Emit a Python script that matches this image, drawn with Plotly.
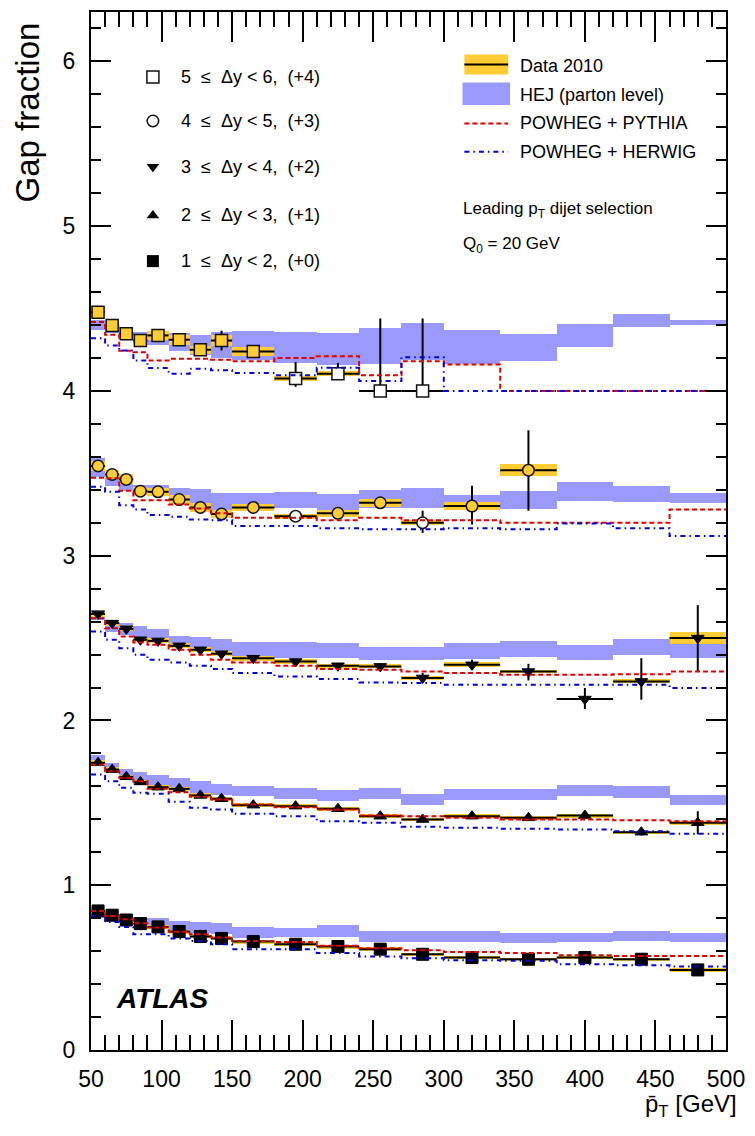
import plotly.graph_objects as go

# ---------------- data ----------------
pt_edges = [50, 60, 70, 80, 90, 105, 120, 135, 150, 180, 210, 240, 270, 300, 340, 380, 420, 460, 500]

# Data 2010 (gap fraction, without the display offset)
data_dy12 = [0.844, 0.818, 0.789, 0.767, 0.747, 0.719, 0.689, 0.677, 0.658, 0.642, 0.628, 0.612, 0.581, 0.561, 0.551, 0.561, 0.551, 0.486]
data_dy23 = [0.743, 0.702, 0.658, 0.627, 0.595, 0.585, 0.545, 0.525, 0.486, 0.480, 0.464, 0.419, 0.399, 0.419, 0.409, 0.423, 0.322, 0.379]
data_dy34 = [0.647, 0.591, 0.556, 0.490, 0.483, 0.453, 0.429, 0.405, 0.378, 0.358, 0.332, 0.328, 0.258, 0.338, 0.297, 0.130, 0.237, 0.500]
data_dy45 = [0.545, 0.493, 0.463, 0.392, 0.388, 0.341, 0.293, 0.253, 0.293, 0.240, 0.257, 0.321, 0.200, 0.301, 0.519]
data_dy56 = [0.478, 0.397, 0.347, 0.306, 0.337, 0.311, 0.250, 0.306, 0.240, 0.075, 0.105, 0.000, 0.000]

# statistical errors (up / down)
statup_dy12 = [0.008] * 12 + [0.010, 0.010, 0.012, 0.012, 0.015, 0.020]
statdn_dy12 = [0.008] * 12 + [0.010, 0.010, 0.012, 0.012, 0.015, 0.020]
statup_dy23 = [0.010] * 15 + [0.015, 0.020, 0.070]
statdn_dy23 = [0.010] * 15 + [0.015, 0.020, 0.070]
statup_dy34 = [0.010] * 9 + [0.015, 0.015, 0.020, 0.030, 0.030, 0.047, 0.067, 0.141, 0.200]
statdn_dy34 = [0.010] * 9 + [0.015, 0.015, 0.020, 0.030, 0.030, 0.054, 0.060, 0.111, 0.200]
statup_dy45 = [0.010] * 5 + [0.015, 0.015, 0.015, 0.015, 0.020, 0.025, 0.030, 0.073, 0.123, 0.242]
statdn_dy45 = [0.010] * 5 + [0.015, 0.015, 0.015, 0.015, 0.020, 0.025, 0.030, 0.061, 0.111, 0.246]
statup_dy56 = [0.010, 0.010, 0.010, 0.015, 0.020, 0.030, 0.020, 0.060, 0.020, 0.100, 0.065, 0.440, 0.440]
statdn_dy56 = [0.010, 0.010, 0.010, 0.015, 0.020, 0.030, 0.020, 0.060, 0.020, 0.050, 0.035, 0.000, 0.000]

# systematic uncertainty (half height of yellow band)
syst_dy12 = [0.012, 0.012, 0.012, 0.012, 0.012, 0.012, 0.012, 0.012, 0.012, 0.012, 0.012, 0.012, 0.010, 0.010, 0.010, 0.010, 0.010, 0.012]
syst_dy23 = [0.015, 0.014, 0.013, 0.013, 0.013, 0.013, 0.013, 0.013, 0.013, 0.012, 0.012, 0.012, 0.010, 0.012, 0.010, 0.012, 0.010, 0.012]
syst_dy34 = [0.020, 0.015, 0.015, 0.015, 0.015, 0.015, 0.015, 0.015, 0.015, 0.015, 0.012, 0.012, 0.010, 0.015, 0.010, 0.004, 0.012, 0.035]
syst_dy45 = [0.030, 0.030, 0.030, 0.025, 0.025, 0.025, 0.025, 0.025, 0.020, 0.015, 0.020, 0.025, 0.015, 0.025, 0.035]
syst_dy56 = [0.035, 0.030, 0.030, 0.030, 0.025, 0.030, 0.025, 0.035, 0.025, 0.015, 0.015, 0.000, 0.000]

# HEJ (parton level): band centre and half width
hej_dy12 = [0.838, 0.820, 0.800, 0.780, 0.773, 0.750, 0.745, 0.738, 0.712, 0.713, 0.720, 0.690, 0.688, 0.688, 0.680, 0.685, 0.692, 0.685]
hejerr_dy12 = [0.020, 0.025, 0.025, 0.027, 0.030, 0.033, 0.033, 0.035, 0.035, 0.030, 0.037, 0.034, 0.032, 0.032, 0.033, 0.028, 0.030, 0.028]
hej_dy23 = [0.762, 0.717, 0.682, 0.660, 0.637, 0.622, 0.596, 0.580, 0.570, 0.556, 0.543, 0.556, 0.523, 0.553, 0.550, 0.576, 0.566, 0.515]
hejerr_dy23 = [0.030, 0.025, 0.024, 0.028, 0.035, 0.030, 0.035, 0.035, 0.030, 0.035, 0.033, 0.035, 0.033, 0.033, 0.034, 0.035, 0.035, 0.031]
hej_dy34 = [0.640, 0.572, 0.555, 0.533, 0.513, 0.487, 0.469, 0.456, 0.427, 0.427, 0.424, 0.405, 0.405, 0.420, 0.435, 0.414, 0.447, 0.454]
hejerr_dy34 = [0.028, 0.038, 0.035, 0.043, 0.040, 0.028, 0.040, 0.037, 0.048, 0.048, 0.045, 0.040, 0.040, 0.048, 0.050, 0.045, 0.048, 0.076]
hej_dy45 = [0.535, 0.470, 0.424, 0.398, 0.395, 0.374, 0.350, 0.330, 0.337, 0.337, 0.320, 0.342, 0.352, 0.326, 0.336, 0.390, 0.375, 0.350]
hejerr_dy45 = [0.056, 0.045, 0.030, 0.030, 0.033, 0.040, 0.057, 0.052, 0.045, 0.050, 0.053, 0.055, 0.060, 0.045, 0.055, 0.056, 0.048, 0.033]
hej_dy56 = [0.400, 0.380, 0.355, 0.325, 0.317, 0.295, 0.280, 0.277, 0.274, 0.263, 0.253, 0.274, 0.298, 0.264, 0.264, 0.337, 0.430, 0.418]
hejerr_dy56 = [0.030, 0.030, 0.035, 0.035, 0.040, 0.055, 0.060, 0.080, 0.089, 0.094, 0.098, 0.109, 0.113, 0.103, 0.083, 0.071, 0.039, 0.015]

# POWHEG + PYTHIA
pythia_dy12 = [0.844, 0.814, 0.793, 0.769, 0.743, 0.717, 0.703, 0.683, 0.662, 0.656, 0.632, 0.618, 0.606, 0.595, 0.588, 0.575, 0.571, 0.571]
pythia_dy23 = [0.732, 0.692, 0.652, 0.631, 0.585, 0.565, 0.537, 0.520, 0.490, 0.474, 0.460, 0.423, 0.419, 0.409, 0.399, 0.399, 0.395, 0.389]
pythia_dy34 = [0.621, 0.560, 0.510, 0.473, 0.459, 0.429, 0.399, 0.368, 0.352, 0.332, 0.312, 0.308, 0.297, 0.288, 0.277, 0.277, 0.280, 0.297]
pythia_dy45 = [0.473, 0.470, 0.394, 0.337, 0.337, 0.311, 0.287, 0.257, 0.230, 0.230, 0.216, 0.230, 0.216, 0.216, 0.200, 0.200, 0.200, 0.281]
pythia_dy56 = [0.418, 0.341, 0.244, 0.235, 0.185, 0.195, 0.195, 0.190, 0.181, 0.200, 0.210, 0.095, 0.181, 0.161, 0.000, 0.000, 0.000, 0.000]

# POWHEG + HERWIG
herwig_dy12 = [0.810, 0.777, 0.747, 0.703, 0.703, 0.677, 0.662, 0.642, 0.612, 0.612, 0.588, 0.568, 0.557, 0.545, 0.541, 0.521, 0.515, 0.507]
herwig_dy23 = [0.672, 0.631, 0.591, 0.561, 0.555, 0.506, 0.470, 0.460, 0.434, 0.419, 0.389, 0.379, 0.355, 0.349, 0.343, 0.339, 0.328, 0.312]
herwig_dy34 = [0.540, 0.490, 0.439, 0.399, 0.368, 0.352, 0.332, 0.312, 0.288, 0.267, 0.251, 0.231, 0.227, 0.217, 0.217, 0.217, 0.217, 0.197]
herwig_dy45 = [0.418, 0.388, 0.307, 0.281, 0.247, 0.236, 0.220, 0.216, 0.180, 0.180, 0.166, 0.160, 0.160, 0.166, 0.160, 0.196, 0.166, 0.119]
herwig_dy56 = [0.320, 0.276, 0.246, 0.185, 0.139, 0.105, 0.135, 0.125, 0.109, 0.095, 0.141, 0.060, 0.205, 0.000, 0.000, 0.000, 0.000, 0.000]

range_labels = ["1 ≤ Δy < 2", "2 ≤ Δy < 3", "3 ≤ Δy < 4", "4 ≤ Δy < 5", "5 ≤ Δy < 6"]
offsets = [0, 1, 2, 3, 4]
offset_labels = ["(+0)", "(+1)", "(+2)", "(+3)", "(+4)"]

# ---------------- styles ----------------
FONT = "Liberation Sans, Arial, Helvetica, sans-serif"
YELLOW = "#ffcc33"
HEJ_COL = "#9999ff"
RED = "#e00000"
BLUE = "#0000e0"
symbols = ["square", "triangle-up", "triangle-down", "circle", "square"]
open_marker = [False, False, False, True, True]
msizes = [12, 11, 11, 11.5, 12]

series = [
    dict(d=data_dy12, su=statup_dy12, sd=statdn_dy12, sy=syst_dy12, h=hej_dy12, he=hejerr_dy12, p=pythia_dy12, w=herwig_dy12),
    dict(d=data_dy23, su=statup_dy23, sd=statdn_dy23, sy=syst_dy23, h=hej_dy23, he=hejerr_dy23, p=pythia_dy23, w=herwig_dy23),
    dict(d=data_dy34, su=statup_dy34, sd=statdn_dy34, sy=syst_dy34, h=hej_dy34, he=hejerr_dy34, p=pythia_dy34, w=herwig_dy34),
    dict(d=data_dy45, su=statup_dy45, sd=statdn_dy45, sy=syst_dy45, h=hej_dy45, he=hejerr_dy45, p=pythia_dy45, w=herwig_dy45),
    dict(d=data_dy56, su=statup_dy56, sd=statdn_dy56, sy=syst_dy56, h=hej_dy56, he=hejerr_dy56, p=pythia_dy56, w=herwig_dy56),
]

centers = [(a + b) / 2 for a, b in zip(pt_edges[:-1], pt_edges[1:])]
widths = [b - a for a, b in zip(pt_edges[:-1], pt_edges[1:])]

fig = go.Figure()

# HEJ bands
for s, off in zip(series, offsets):
    n = len(s["h"])
    fig.add_trace(go.Bar(
        x=centers[:n], width=widths[:n],
        base=[c - e + off for c, e in zip(s["h"], s["he"])],
        y=[2 * e for e in s["he"]],
        marker=dict(color=HEJ_COL, line=dict(width=0)),
        hoverinfo="skip"))

# Data systematic bands (yellow)
for s, off in zip(series, offsets):
    n = len(s["d"])
    fig.add_trace(go.Bar(
        x=centers[:n], width=widths[:n],
        base=[v - e + off for v, e in zip(s["d"], s["sy"])],
        y=[2 * e for e in s["sy"]],
        marker=dict(color=YELLOW, line=dict(width=0)),
        hoverinfo="skip"))

# Data points with stat errors and bin widths
for i, (s, off) in enumerate(zip(series, offsets)):
    n = len(s["d"])
    if open_marker[i]:
        fills = [YELLOW if e >= 0.02 else "white" for e in s["sy"]]
        mk = dict(symbol=symbols[i], size=msizes[i], color=fills,
                  line=dict(color="#111111", width=1.5))
    else:
        mk = dict(symbol=symbols[i], size=msizes[i], color="black",
                  line=dict(color="black", width=1))
    fig.add_trace(go.Scatter(
        x=centers[:n], y=[v + off for v in s["d"]], mode="markers",
        marker=mk,
        error_x=dict(type="data", array=[w / 2 for w in widths[:n]], color="black", thickness=2, width=0),
        error_y=dict(type="data", symmetric=False, array=s["su"], arrayminus=s["sd"],
                     color="black", thickness=2, width=0),
        cliponaxis=True))

# POWHEG + PYTHIA
for s, off in zip(series, offsets):
    vals = [v + off for v in s["p"]]
    fig.add_trace(go.Scatter(
        x=pt_edges, y=vals + [vals[-1]], mode="lines", line_shape="hv",
        line=dict(color=RED, width=2, dash="5px,3px")))

# POWHEG + HERWIG
for s, off in zip(series, offsets):
    vals = [v + off for v in s["w"]]
    fig.add_trace(go.Scatter(
        x=pt_edges, y=vals + [vals[-1]], mode="lines", line_shape="hv",
        line=dict(color=BLUE, width=2, dash="5px,4px,1.5px,4px")))

# ---------------- legends ----------------
# left legend (marker key) on an overlay axis in plot-area fractions
leg_rows = [0.760, 0.804, 0.851, 0.895, 0.9375]  # dy12 ... dy56
leg_sym_x = 0.0975
leg_txt_x = 0.1384
for i in range(5):
    if open_marker[i]:
        mk = dict(symbol=symbols[i] + "-open", size=msizes[i], color="#111111", line=dict(width=1.5))
    else:
        mk = dict(symbol=symbols[i], size=msizes[i], color="black")
    fig.add_trace(go.Scatter(x=[leg_sym_x], y=[leg_rows[i]], xaxis="x2", yaxis="y2",
                             mode="markers", marker=mk, cliponaxis=False))

annotations = []
for i in range(5):
    lo, rest = range_labels[i].split(" ≤ ")
    txt = lo + "\u00a0\u00a0≤\u00a0\u00a0" + rest + ",\u00a0\u00a0" + offset_labels[i]
    annotations.append(dict(x=leg_txt_x, y=leg_rows[i], xref="paper", yref="paper", text=txt,
                            showarrow=False, xanchor="left", yanchor="middle",
                            font=dict(family=FONT, size=18, color="black")))

# right legend
rl_x0, rl_x1 = 0.588, 0.657
rl_txt = 0.673
shapes = [
    dict(type="rect", xref="paper", yref="paper", x0=rl_x0, x1=rl_x1, y0=0.9397, y1=0.959,
         fillcolor=YELLOW, line=dict(width=0)),
    dict(type="line", xref="paper", yref="paper", x0=rl_x0, x1=rl_x1, y0=0.9495, y1=0.9495,
         line=dict(color="black", width=2)),
    dict(type="rect", xref="paper", yref="paper", x0=0.585, x1=0.660, y0=0.9103, y1=0.932,
         fillcolor=HEJ_COL, line=dict(width=0)),
    dict(type="line", xref="paper", yref="paper", x0=rl_x0, x1=rl_x1, y0=0.8926, y1=0.8926,
         line=dict(color=RED, width=2, dash="5px,3px")),
    dict(type="line", xref="paper", yref="paper", x0=rl_x0, x1=rl_x1, y0=0.8654, y1=0.8654,
         line=dict(color=BLUE, width=2, dash="5px,4px,1.5px,4px")),
]
for txt, yy in [("Data 2010", 0.948), ("HEJ (parton level)", 0.9205),
                ("POWHEG + PYTHIA", 0.8926), ("POWHEG + HERWIG", 0.8654)]:
    annotations.append(dict(x=rl_txt, y=yy, xref="paper", yref="paper", text=txt,
                            showarrow=False, xanchor="left", yanchor="middle",
                            font=dict(family=FONT, size=18, color="black")))

annotations.append(dict(x=0.582, y=0.809, xref="paper", yref="paper",
                        text="Leading p<sub>T</sub> dijet selection",
                        showarrow=False, xanchor="left", yanchor="middle",
                        font=dict(family=FONT, size=17, color="black")))
annotations.append(dict(x=0.582, y=0.776, xref="paper", yref="paper",
                        text="Q<sub>0</sub> = 20 GeV",
                        showarrow=False, xanchor="left", yanchor="middle",
                        font=dict(family=FONT, size=17, color="black")))
annotations.append(dict(x=0.036, y=0.05, xref="paper", yref="paper",
                        text="<b><i>ATLAS</i></b>",
                        showarrow=False, xanchor="left", yanchor="middle",
                        font=dict(family=FONT, size=28, color="black")))
annotations.append(dict(x=-0.1006, y=0.992, xref="paper", yref="paper",
                        text="Gap fraction", textangle=-90,
                        showarrow=False, xanchor="center", yanchor="top",
                        font=dict(family=FONT, size=33, color="black")))
annotations.append(dict(x=1.02, y=-0.053, xref="paper", yref="paper",
                        text="p\u0304<sub>T</sub> [GeV]",
                        showarrow=False, xanchor="right", yanchor="middle",
                        font=dict(family=FONT, size=24, color="black")))

axis_common = dict(showgrid=False, zeroline=False, showline=True, linecolor="black", linewidth=2,
                   mirror="allticks", ticks="inside", tickcolor="black", tickwidth=1.5,
                   tickfont=dict(family=FONT, size=23, color="black"))

fig.update_layout(
    width=755, height=1136,
    margin=dict(l=91, r=28, t=10, b=86),
    paper_bgcolor="white", plot_bgcolor="white",
    barmode="overlay", bargap=0,
    showlegend=False,
    xaxis=dict(range=[50, 500], tick0=50, dtick=50, ticklen=30,
               minor=dict(ticks="inside", dtick=10, ticklen=15, tickcolor="black", tickwidth=1.5),
               ticklabelstandoff=7, **axis_common),
    yaxis=dict(range=[0, 6.3], tick0=0, dtick=1, ticklen=20,
               minor=dict(ticks="inside", dtick=0.2, ticklen=10, tickcolor="black", tickwidth=1.5),
               ticklabelstandoff=9, **axis_common),
    xaxis2=dict(overlaying="x", range=[0, 1], visible=False, fixedrange=True),
    yaxis2=dict(overlaying="y", range=[0, 1], visible=False, fixedrange=True),
    annotations=annotations,
    shapes=shapes,
)

fig.write_html("out.html")
